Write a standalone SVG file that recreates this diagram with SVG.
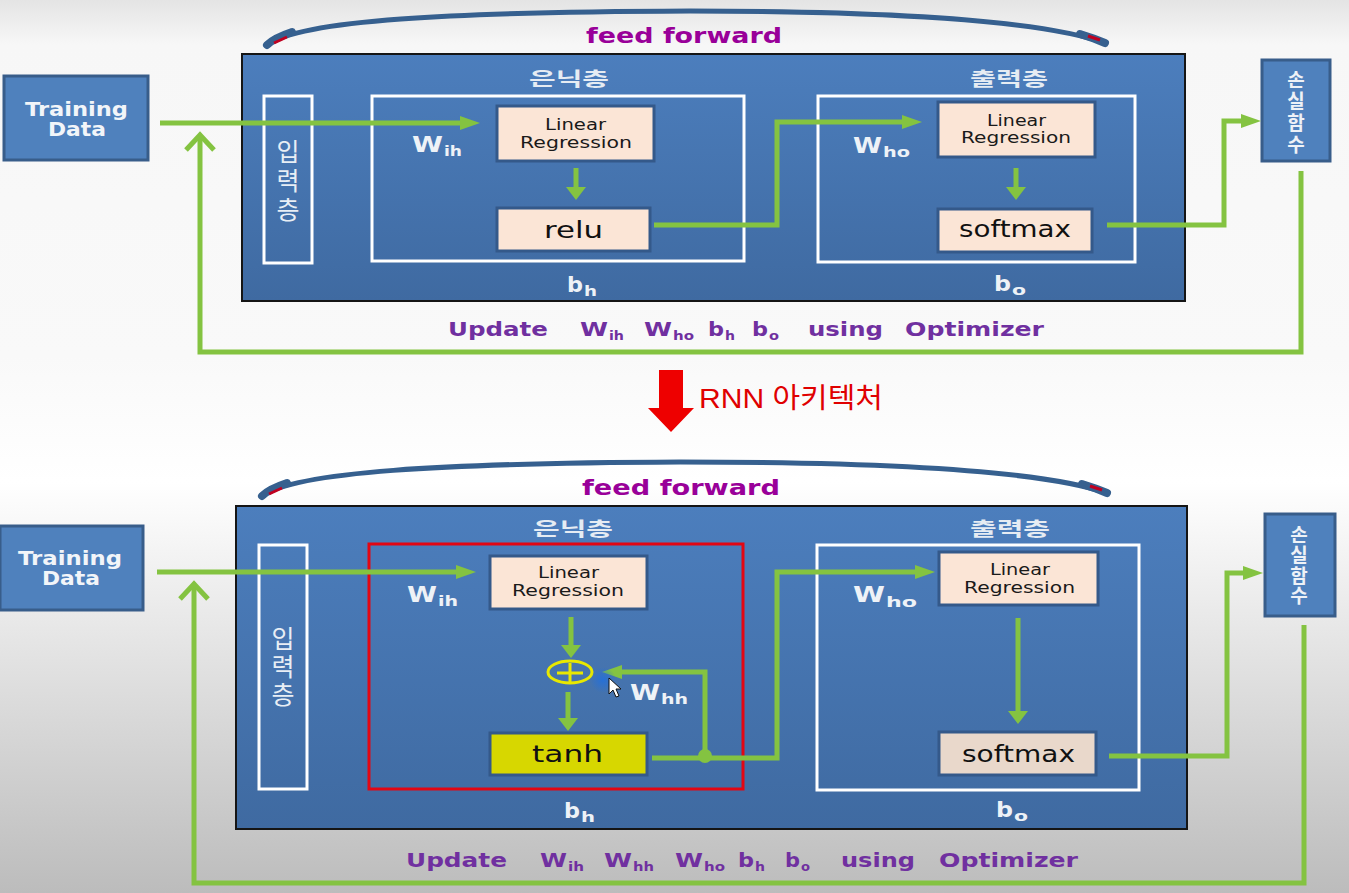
<svg xmlns="http://www.w3.org/2000/svg" width="1349" height="893" viewBox="0 0 1349 893">
<defs>
  <linearGradient id="bg" x1="0" y1="0" x2="0" y2="893" gradientUnits="userSpaceOnUse">
    <stop offset="0" stop-color="#e4e4e4"/>
    <stop offset="0.05" stop-color="#f7f7f7"/>
    <stop offset="0.4" stop-color="#f9f9f9"/>
    <stop offset="0.54" stop-color="#ffffff"/>
    <stop offset="1" stop-color="#bcbcbc"/>
  </linearGradient>
  <linearGradient id="panel" x1="0" y1="0" x2="0" y2="1">
    <stop offset="0" stop-color="#4c7ebd"/>
    <stop offset="1" stop-color="#3f6aa1"/>
  </linearGradient>
  <radialGradient id="glow">
    <stop offset="0" stop-color="#1f6fe0" stop-opacity="0.8"/>
    <stop offset="1" stop-color="#1f6fe0" stop-opacity="0"/>
  </radialGradient>
  <marker id="ah" markerUnits="userSpaceOnUse" markerWidth="22" markerHeight="18" refX="0" refY="8" orient="auto" overflow="visible">
    <path d="M0,1 L20,8 L0,15 z" fill="#84c341"/>
  </marker>
  <marker id="av" markerUnits="userSpaceOnUse" markerWidth="14" markerHeight="20" refX="0" refY="10" orient="auto" overflow="visible">
    <path d="M0,0 L13,10 L0,20 z" fill="#84c341"/>
  </marker>
  <style>
    .node{fill:#4f81bd;stroke:#385d8a;stroke-width:3}
    .panel{fill:url(#panel);stroke:#151515;stroke-width:2}
    .wbox{fill:none;stroke:#ffffff;stroke-width:3}
    .rbox{fill:none;stroke:#e30613;stroke-width:3}
    .lrb{fill:#fbe5d6;stroke:#34598a;stroke-width:3}
    .tanhb{fill:#d7d700;stroke:#34598a;stroke-width:3}
    .g{fill:none;stroke:#84c341;stroke-width:5}
    .arc{fill:none;stroke:#36608f;stroke-width:5;stroke-linecap:round}
    .td{font-family:"DejaVu Sans",sans-serif;font-weight:bold;font-size:19px;fill:#f2f5f9}
    .kr{font-family:"Noto Sans CJK KR",sans-serif;font-weight:bold;font-size:19px;fill:#e6ecf3}
    .krv{font-family:"Noto Sans CJK KR",sans-serif;font-size:25px;fill:#e8eef5;writing-mode:vertical-rl}
    .krl{font-family:"Noto Sans CJK KR",sans-serif;font-weight:bold;font-size:19px;fill:#eef2f7;writing-mode:vertical-rl}
    .lr{font-family:"DejaVu Sans",sans-serif;font-size:15px;fill:#1a1a1a}
    .fn{font-family:"DejaVu Sans",sans-serif;font-size:23px;fill:#111111}
    .wl{font-family:"DejaVu Sans",sans-serif;font-weight:bold;font-size:21px;fill:#eef2f7}
    .ws{font-family:"DejaVu Sans",sans-serif;font-weight:bold;font-size:14px;fill:#eef2f7}
    .ff{font-family:"DejaVu Sans",sans-serif;font-weight:bold;font-size:22px;fill:#990099}
    .up{font-family:"DejaVu Sans",sans-serif;font-weight:bold;font-size:20px;fill:#7030a0}
    .ups{font-family:"DejaVu Sans",sans-serif;font-weight:bold;font-size:13px;fill:#7030a0}
  </style>
</defs>

<rect x="0" y="0" width="1349" height="893" fill="url(#bg)"/>

<!-- ================= TOP DIAGRAM ================= -->
<g id="top-arc">
  <path class="arc" d="M267,45 C300,20 450,12 690,11 C880,11 1040,20 1105,43"/>
  <path d="M267,45 C272,40 280,36 292,32" fill="none" stroke="#36608f" stroke-width="8" stroke-linecap="round"/>
  <path d="M1080,34 C1090,37 1098,40 1105,43" fill="none" stroke="#36608f" stroke-width="8" stroke-linecap="round"/>
  <path d="M274,43 L287,37" stroke="#c00020" stroke-width="3"/>
  <path d="M1088,36 L1100,40" stroke="#c00020" stroke-width="3"/>
  <text class="ff" x="586" y="43" textLength="196" lengthAdjust="spacingAndGlyphs">feed forward</text>
</g>

<g id="top-panel">
  <rect class="panel" x="242" y="54" width="943" height="247"/>
</g>

<g id="top-training">
  <rect class="node" x="4" y="76" width="144" height="84"/>
  <text class="td" x="25" y="116" textLength="103" lengthAdjust="spacingAndGlyphs">Training</text>
  <text class="td" x="48" y="136" textLength="58" lengthAdjust="spacingAndGlyphs">Data</text>
</g>

<g id="top-input">
  <rect class="wbox" x="264" y="96" width="48" height="167"/>
  <text class="krv" x="288" y="139" letter-spacing="4">입력층</text>
</g>

<g id="top-hidden">
  <text class="kr" x="529" y="86" textLength="80" lengthAdjust="spacingAndGlyphs">은닉층</text>
  <rect class="wbox" x="372" y="96" width="372" height="165"/>
  <text class="wl" x="412" y="152" textLength="31" lengthAdjust="spacingAndGlyphs">W</text>
  <text class="ws" x="444" y="156" textLength="18" lengthAdjust="spacingAndGlyphs">ih</text>
  <text class="wl" x="567" y="292" textLength="16" lengthAdjust="spacingAndGlyphs">b</text>
  <text class="ws" x="584" y="296" textLength="13" lengthAdjust="spacingAndGlyphs">h</text>
</g>
<g id="top-lr1">
  <rect class="lrb" x="497" y="106" width="157" height="55"/>
  <text class="lr" x="545" y="130" textLength="61" lengthAdjust="spacingAndGlyphs">Linear</text>
  <text class="lr" x="520" y="148" textLength="112" lengthAdjust="spacingAndGlyphs">Regression</text>
</g>
<g id="top-relu">
  <rect class="lrb" x="497" y="208" width="153" height="43"/>
  <text class="fn" x="544" y="238" textLength="59" lengthAdjust="spacingAndGlyphs">relu</text>
</g>

<g id="top-output">
  <text class="kr" x="970" y="86" textLength="78" lengthAdjust="spacingAndGlyphs">출력층</text>
  <rect class="wbox" x="818" y="96" width="317" height="166"/>
  <text class="wl" x="853" y="153" textLength="29" lengthAdjust="spacingAndGlyphs">W</text>
  <text class="ws" x="883" y="157" textLength="27" lengthAdjust="spacingAndGlyphs">ho</text>
  <text class="wl" x="994" y="291" textLength="17" lengthAdjust="spacingAndGlyphs">b</text>
  <text class="ws" x="1012" y="295" textLength="14" lengthAdjust="spacingAndGlyphs">o</text>
</g>
<g id="top-lr2">
  <rect class="lrb" x="938" y="102" width="157" height="55"/>
  <text class="lr" x="987" y="126" textLength="59" lengthAdjust="spacingAndGlyphs">Linear</text>
  <text class="lr" x="961" y="143" textLength="110" lengthAdjust="spacingAndGlyphs">Regression</text>
</g>
<g id="top-softmax">
  <rect class="lrb" x="938" y="209" width="154" height="43"/>
  <text class="fn" x="959" y="237" textLength="112" lengthAdjust="spacingAndGlyphs">softmax</text>
</g>

<g id="top-loss">
  <rect class="node" x="1262" y="60" width="68" height="101"/>
  <text class="krl" x="1296" y="70" letter-spacing="2.7">손실함수</text>
</g>

<g id="top-update">
  <text class="up" x="448" y="336" textLength="100" lengthAdjust="spacingAndGlyphs">Update</text>
  <text class="up" x="580" y="336" textLength="28" lengthAdjust="spacingAndGlyphs">W</text>
  <text class="ups" x="609" y="340" textLength="15" lengthAdjust="spacingAndGlyphs">ih</text>
  <text class="up" x="644" y="336" textLength="28" lengthAdjust="spacingAndGlyphs">W</text>
  <text class="ups" x="673" y="340" textLength="21" lengthAdjust="spacingAndGlyphs">ho</text>
  <text class="up" x="708" y="336" textLength="16" lengthAdjust="spacingAndGlyphs">b</text>
  <text class="ups" x="725" y="340" textLength="10" lengthAdjust="spacingAndGlyphs">h</text>
  <text class="up" x="752" y="336" textLength="16" lengthAdjust="spacingAndGlyphs">b</text>
  <text class="ups" x="769" y="340" textLength="10" lengthAdjust="spacingAndGlyphs">o</text>
  <text class="up" x="808" y="336" textLength="75" lengthAdjust="spacingAndGlyphs">using</text>
  <text class="up" x="905" y="336" textLength="139" lengthAdjust="spacingAndGlyphs">Optimizer</text>
</g>

<g id="top-connectors">
  <path class="g" d="M160,123 H460" marker-end="url(#ah)"/>
  <path class="g" d="M576,168 V187" marker-end="url(#av)" stroke-width="6"/>
  <path class="g" d="M654,225 H777 V122 H902" marker-end="url(#ah)"/>
  <path class="g" d="M1016,168 V187" marker-end="url(#av)" stroke-width="6"/>
  <path class="g" d="M1107,225 H1224 V121 H1241" marker-end="url(#ah)"/>
  <path class="g" d="M1301,171 V352 H200 V136"/>
  <path class="g" d="M186,150 L200,135 L214,150" stroke-linejoin="miter"/>
</g>

<!-- ================= MIDDLE ================= -->
<g id="rnn-arrow">
  <path d="M659,370 H683 V408 H694 L671,432 L648,408 H659 Z" fill="#ee0000"/>
  <text x="699" y="408" font-family="'Liberation Sans','Noto Sans CJK KR',sans-serif" font-size="28" fill="#e00000" textLength="184" lengthAdjust="spacingAndGlyphs">RNN 아키텍처</text>
</g>

<!-- ================= BOTTOM DIAGRAM ================= -->
<g id="bottom-arc">
  <path class="arc" d="M262,496 C295,472 440,463 680,462 C870,462 1040,470 1107,493"/>
  <path d="M262,496 C267,491 275,487 287,483" fill="none" stroke="#36608f" stroke-width="8" stroke-linecap="round"/>
  <path d="M1082,484 C1092,487 1100,490 1107,493" fill="none" stroke="#36608f" stroke-width="8" stroke-linecap="round"/>
  <path d="M269,494 L282,488" stroke="#c00020" stroke-width="3"/>
  <path d="M1090,486 L1102,490" stroke="#c00020" stroke-width="3"/>
  <text class="ff" x="582" y="495" textLength="198" lengthAdjust="spacingAndGlyphs">feed forward</text>
</g>

<g id="bottom-panel">
  <rect class="panel" x="236" y="506" width="951" height="323"/>
</g>

<g id="bottom-training">
  <rect class="node" x="0" y="526" width="143" height="84"/>
  <text class="td" x="18" y="565" textLength="104" lengthAdjust="spacingAndGlyphs">Training</text>
  <text class="td" x="42" y="585" textLength="58" lengthAdjust="spacingAndGlyphs">Data</text>
</g>

<g id="bottom-input">
  <rect class="wbox" x="259" y="545" width="48" height="244"/>
  <text class="krv" x="283" y="626" letter-spacing="3">입력층</text>
</g>

<g id="bottom-hidden">
  <text class="kr" x="533" y="536" textLength="80" lengthAdjust="spacingAndGlyphs">은닉층</text>
  <rect class="rbox" x="369" y="544" width="374" height="245"/>
  <text class="wl" x="407" y="602" textLength="30" lengthAdjust="spacingAndGlyphs">W</text>
  <text class="ws" x="438" y="606" textLength="20" lengthAdjust="spacingAndGlyphs">ih</text>
  <text class="wl" x="630" y="700" textLength="30" lengthAdjust="spacingAndGlyphs">W</text>
  <text class="ws" x="661" y="704" textLength="27" lengthAdjust="spacingAndGlyphs">hh</text>
  <text class="wl" x="564" y="818" textLength="16" lengthAdjust="spacingAndGlyphs">b</text>
  <text class="ws" x="581" y="822" textLength="14" lengthAdjust="spacingAndGlyphs">h</text>
</g>
<g id="bottom-lr1">
  <rect class="lrb" x="490" y="556" width="157" height="53"/>
  <text class="lr" x="538" y="578" textLength="61" lengthAdjust="spacingAndGlyphs">Linear</text>
  <text class="lr" x="512" y="596" textLength="112" lengthAdjust="spacingAndGlyphs">Regression</text>
</g>
<g id="bottom-plus">
  <ellipse cx="570" cy="672" rx="22" ry="11" fill="none" stroke="#e8e800" stroke-width="3"/>
  <path d="M557,673 H583 M570,663 V682" stroke="#e8e800" stroke-width="3"/>
</g>
<g id="bottom-tanh">
  <rect class="tanhb" x="490" y="733" width="157" height="42"/>
  <text class="fn" x="532" y="762" textLength="71" lengthAdjust="spacingAndGlyphs" font-size="25">tanh</text>
</g>

<g id="bottom-output">
  <text class="kr" x="970" y="536" textLength="80" lengthAdjust="spacingAndGlyphs">출력층</text>
  <rect class="wbox" x="817" y="545" width="322" height="245"/>
  <text class="wl" x="853" y="602" textLength="32" lengthAdjust="spacingAndGlyphs">W</text>
  <text class="ws" x="886" y="607" textLength="31" lengthAdjust="spacingAndGlyphs">ho</text>
  <text class="wl" x="996" y="817" textLength="17" lengthAdjust="spacingAndGlyphs">b</text>
  <text class="ws" x="1014" y="821" textLength="14" lengthAdjust="spacingAndGlyphs">o</text>
</g>
<g id="bottom-lr2">
  <rect class="lrb" x="939" y="552" width="159" height="53"/>
  <text class="lr" x="990" y="575" textLength="60" lengthAdjust="spacingAndGlyphs">Linear</text>
  <text class="lr" x="964" y="593" textLength="111" lengthAdjust="spacingAndGlyphs">Regression</text>
</g>
<g id="bottom-softmax">
  <rect class="lrb" x="939" y="732" width="157" height="43" style="fill:#e9d8cb"/>
  <text class="fn" x="962" y="762" textLength="113" lengthAdjust="spacingAndGlyphs">softmax</text>
</g>

<g id="bottom-loss">
  <rect class="node" x="1265" y="514" width="70" height="102"/>
  <text class="krl" x="1299" y="525" letter-spacing="1.5">손실함수</text>
</g>

<g id="bottom-update">
  <text class="up" x="406" y="867" textLength="101" lengthAdjust="spacingAndGlyphs">Update</text>
  <text class="up" x="540" y="867" textLength="27" lengthAdjust="spacingAndGlyphs">W</text>
  <text class="ups" x="568" y="871" textLength="16" lengthAdjust="spacingAndGlyphs">ih</text>
  <text class="up" x="604" y="867" textLength="28" lengthAdjust="spacingAndGlyphs">W</text>
  <text class="ups" x="633" y="871" textLength="21" lengthAdjust="spacingAndGlyphs">hh</text>
  <text class="up" x="675" y="867" textLength="28" lengthAdjust="spacingAndGlyphs">W</text>
  <text class="ups" x="704" y="871" textLength="21" lengthAdjust="spacingAndGlyphs">ho</text>
  <text class="up" x="738" y="867" textLength="16" lengthAdjust="spacingAndGlyphs">b</text>
  <text class="ups" x="755" y="871" textLength="10" lengthAdjust="spacingAndGlyphs">h</text>
  <text class="up" x="785" y="867" textLength="15" lengthAdjust="spacingAndGlyphs">b</text>
  <text class="ups" x="801" y="871" textLength="9" lengthAdjust="spacingAndGlyphs">o</text>
  <text class="up" x="841" y="867" textLength="74" lengthAdjust="spacingAndGlyphs">using</text>
  <text class="up" x="939" y="867" textLength="139" lengthAdjust="spacingAndGlyphs">Optimizer</text>
</g>

<g id="bottom-connectors">
  <path class="g" d="M157,572 H456" marker-end="url(#ah)"/>
  <path class="g" d="M571,617 V645" marker-end="url(#av)" stroke-width="6"/>
  <path class="g" d="M568,692 V718" marker-end="url(#av)" stroke-width="6"/>
  <path class="g" d="M652,758 H777 V572 H915" marker-end="url(#ah)"/>
  <path class="g" d="M705,758 V672 H622" marker-end="url(#ah)"/>
  <circle cx="705" cy="756" r="7" fill="#84c341"/>
  <path class="g" d="M1018,618 V711" marker-end="url(#av)" stroke-width="6"/>
  <path class="g" d="M1109,756 H1227 V573 H1243" marker-end="url(#ah)"/>
  <path class="g" d="M1304,625 V883 H194 V584"/>
  <path class="g" d="M180,599 L194,584 L208,599" stroke-linejoin="miter"/>
</g>

<g id="cursor">
  <circle cx="603" cy="680" r="13" fill="url(#glow)"/>
  <path d="M609,678 V694 L613,690 L616,697 L619,696 L616,689 L621,689 Z" fill="#ffffff" stroke="#111111" stroke-width="1"/>
</g>
</svg>
